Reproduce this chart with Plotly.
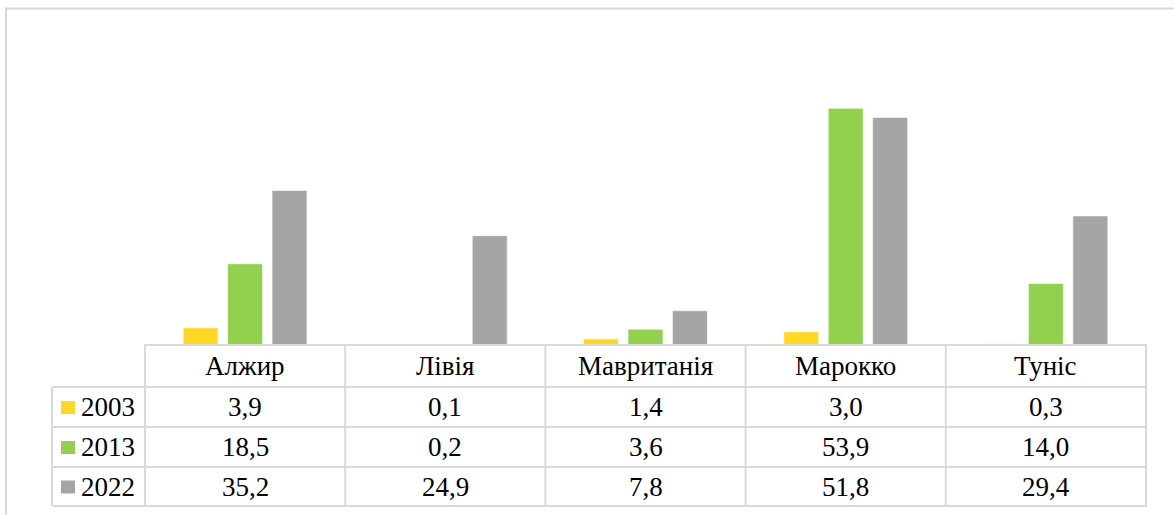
import plotly.graph_objects as go

countries = ["Алжир", "Лівія", "Мавританія", "Марокко", "Туніс"]
years = ["2003", "2013", "2022"]
v2003 = [3.9, 0.1, 1.4, 3.0, 0.3]
v2013 = [18.5, 0.2, 3.6, 53.9, 14.0]
v2022 = [35.2, 24.9, 7.8, 51.8, 29.4]
colors = ["#FFD826", "#92D050", "#A5A5A5"]

W, H = 1174, 515
FONT = "Times New Roman, Liberation Serif, serif"
LINE = "#D9D9D9"


def px(x):
    return x / W


def py(y):
    return (H - y) / H


def fmt(v):
    return f"{v:.1f}".replace(".", ",")


series = [v2003, v2013, v2022]

fig = go.Figure()
for name, vals, col in zip(years, series, colors):
    fig.add_trace(go.Bar(
        x=countries, y=vals, name=name,
        marker=dict(color=col, line=dict(color="rgba(255,255,255,0.6)", width=1)),
        showlegend=False,
    ))

# table geometry (pixels)
left_x, col_x, right_x = 52, 144, 1147
row_y = [345, 387, 427, 467, 506]

shapes = []
# outer chart border
shapes.append(dict(type="rect", xref="paper", yref="paper",
                   x0=px(6), x1=px(1190), y0=py(530), y1=py(8.5),
                   line=dict(color=LINE, width=2)))
# horizontal lines
shapes.append(dict(type="line", xref="paper", yref="paper",
                   x0=px(col_x), x1=px(right_x), y0=py(row_y[0]), y1=py(row_y[0]),
                   line=dict(color=LINE, width=2)))
for y in row_y[1:]:
    shapes.append(dict(type="line", xref="paper", yref="paper",
                       x0=px(left_x), x1=px(right_x), y0=py(y), y1=py(y),
                       line=dict(color=LINE, width=2)))
# vertical lines
shapes.append(dict(type="line", xref="paper", yref="paper",
                   x0=px(left_x), x1=px(left_x), y0=py(row_y[1]), y1=py(row_y[-1]),
                   line=dict(color=LINE, width=2)))
for i in range(len(countries) + 1):
    shapes.append(dict(type="line", xref="x", yref="paper",
                       x0=i - 0.5, x1=i - 0.5, y0=py(row_y[0]), y1=py(row_y[-1]),
                       line=dict(color=LINE, width=2)))

annotations = []
# header row
for c in countries:
    annotations.append(dict(x=c, y=py((row_y[0] + row_y[1]) / 2), xref="x", yref="paper",
                            text=c, showarrow=False, xanchor="center", yanchor="middle",
                            font=dict(family=FONT, size=27, color="black")))
# data rows
for r, (name, vals, col) in enumerate(zip(years, series, colors)):
    yc = (row_y[r + 1] + row_y[r + 2]) / 2
    shapes.append(dict(type="rect", xref="paper", yref="paper",
                       x0=px(61), x1=px(75), y0=py(yc - 6), y1=py(yc + 7),
                       fillcolor=col, line=dict(width=0)))
    annotations.append(dict(x=px(79), y=py(yc), xref="paper", yref="paper",
                            text=name, showarrow=False, xanchor="left", yanchor="middle",
                            font=dict(family=FONT, size=27, color="black")))
    for c, v in zip(countries, vals):
        annotations.append(dict(x=c, y=py(yc), xref="x", yref="paper",
                                text=fmt(v), showarrow=False, xanchor="center", yanchor="middle",
                                font=dict(family=FONT, size=27, color="black")))

y_top = 345 - 60 * (345 - 108.3) / 53.9

fig.update_layout(
    width=W, height=H,
    margin=dict(l=0, r=0, t=0, b=0),
    paper_bgcolor="white", plot_bgcolor="white",
    barmode="group", bargap=0.334, bargroupgap=0.213,
    xaxis=dict(domain=[px(col_x), px(right_x)], showticklabels=False, showgrid=False,
               zeroline=False, showline=False, ticks=""),
    yaxis=dict(domain=[py(345), py(y_top)], range=[0, 60], visible=False),
    shapes=shapes,
    annotations=annotations,
)

fig.write_html("out.html", config={"displayModeBar": False},
               post_script="document.body.style.margin='0';")
